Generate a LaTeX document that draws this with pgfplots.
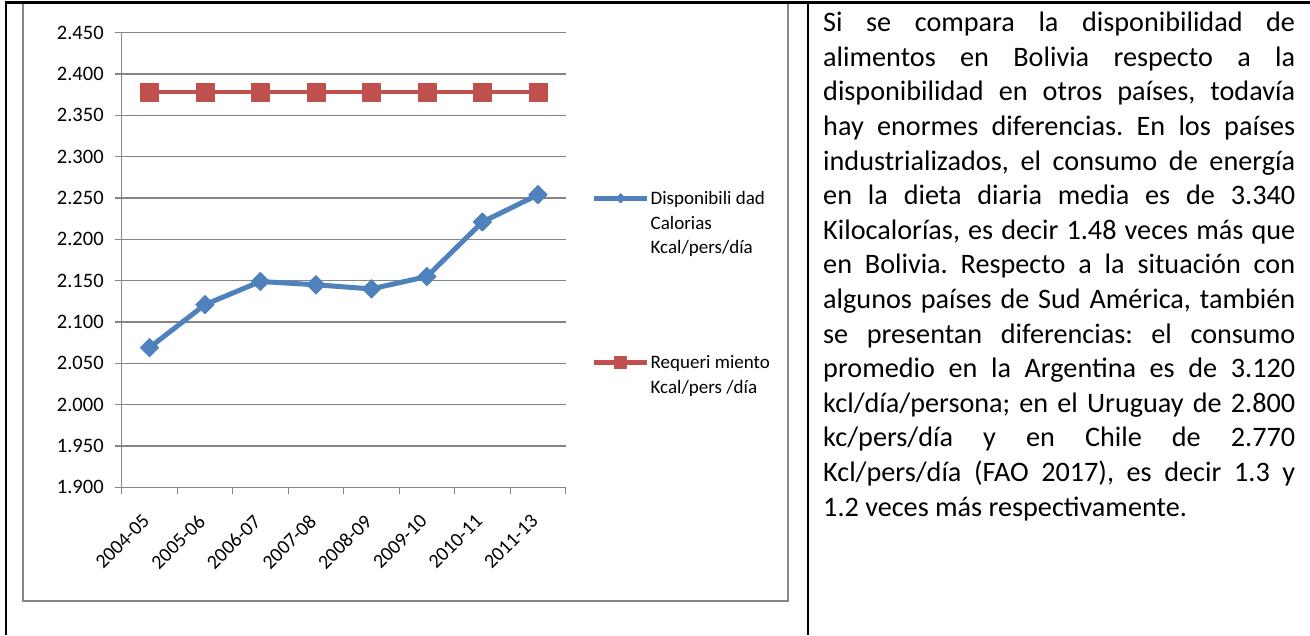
\documentclass[border=0pt]{standalone}
\usepackage{fontspec}
\setmainfont{Carlito}
\usepackage{pgfplots}
\pgfplotsset{compat=1.18}
\definecolor{serblue}{HTML}{4F81BD}
\definecolor{serred}{HTML}{C0504D}
\definecolor{gridgray}{HTML}{868686}
\pgfplotsset{
  blueleg/.style={legend image code/.code={\draw[##1, mark repeat=2, mark phase=2,
    every mark/.append style={scale=0.5}] plot coordinates {(0pt,6.2pt) (26.5pt,6.2pt) (53pt,6.2pt)};}},
  redleg/.style={legend image code/.code={\draw[##1, mark repeat=2, mark phase=2,
    every mark/.append style={scale=0.65}] plot coordinates {(0pt,6.2pt) (26.5pt,6.2pt) (53pt,6.2pt)};}},
}
\begin{document}
\frenchspacing
\begin{tikzpicture}[x=1pt,y=1pt]
\useasboundingbox (0,0) rectangle (1310,635);
\draw[gridgray, line width=1.2pt] (23,632) rectangle (788,34);
\begin{axis}[
  at={(121.7pt,147.7pt)}, anchor=south west,
  scale only axis, width=444pt, height=454.6pt,
  xmin=0, xmax=8, ymin=1.9, ymax=2.45,
  ytick={1.9,1.95,2,2.05,2.1,2.15,2.2,2.25,2.3,2.35,2.4,2.45},
  scaled y ticks=false,
  xtick={0,1,2,3,4,5,6,7,8}, xticklabels={},
  extra x ticks={0.5,1.5,2.5,3.5,4.5,5.5,6.5,7.5},
  extra x tick labels={2004-05,2005-06,2006-07,2007-08,2008-09,2009-10,2010-11,2011-13},
  extra x tick style={grid=none, major tick length=0pt},
  axis x line*=bottom, axis y line*=left,
  axis line style={gridgray, line width=1.2pt, -},
  tick style={gridgray, line width=1.2pt},
  tick align=outside, major tick length=6.5pt,
  ymajorgrids, grid style={gridgray, line width=1.2pt},
  ticklabel style={text=black},
  yticklabel style={font=\fontsize{20.5}{24}\selectfont, xshift=-8pt,
    /pgf/number format/fixed, /pgf/number format/fixed zerofill,
    /pgf/number format/precision=3, /pgf/number format/assume math mode=true},
  xticklabel style={font=\fontsize{20}{24}\selectfont, xshift=-8pt, yshift=-21pt, rotate=45, anchor=north east},
  clip=false,
  legend style={at={(1.0586,0.6598)}, anchor=north west, draw=none, fill=none,
    inner sep=0pt, outer sep=0pt, row sep=90.9pt, column sep=1pt,
    font=\fontsize{19}{24.5}\selectfont,
    nodes={inner sep=0pt, text depth=, text height=, anchor=base west},
    cells={anchor=base west}},
]
\addplot[serblue, line width=5pt, line join=round, mark=square*, mark size=6.5pt,
  mark options={rotate=45, fill=serblue, draw=serblue, line width=0.8pt, solid},
  blueleg]
  coordinates {(0.5,2.069) (1.5,2.121) (2.5,2.149) (3.5,2.145) (4.5,2.140) (5.5,2.155) (6.5,2.221) (7.5,2.254)};
\addlegendentry{\begin{tabular}[t]{@{}l@{}}Disponibili dad\\Calorias\\Kcal/pers/día\end{tabular}}
\addplot[serred, line width=4.5pt, line join=round, mark=square*, mark size=9pt,
  mark options={fill=serred, draw=serred, line width=0.8pt, solid},
  redleg]
  coordinates {(0.5,2.378) (1.5,2.378) (2.5,2.378) (3.5,2.378) (4.5,2.378) (5.5,2.378) (6.5,2.378) (7.5,2.378)};
\addlegendentry{\begin{tabular}[t]{@{}l@{}}Requeri miento\\Kcal/pers /día\end{tabular}}
\end{axis}
\node[anchor=base west, inner sep=0pt, font=\fontsize{28.2}{34.6}\selectfont] at (823,603.3) {\vtop{%
\hbox to 472pt{Si se compara la disponibilidad de}
\hbox to 472pt{alimentos en Bolivia respecto a la}
\hbox to 472pt{disponibilidad en otros países, todavía}
\hbox to 472pt{hay enormes diferencias. En los países}
\hbox to 472pt{industrializados, el consumo de energía}
\hbox to 472pt{en la dieta diaria media es de 3.340}
\hbox to 472pt{Kilocalorías, es decir 1.48 veces más que}
\hbox to 472pt{en Bolivia. Respecto a la situación con}
\hbox to 472pt{algunos países de Sud América, también}
\hbox to 472pt{se presentan diferencias: el consumo}
\hbox to 472pt{promedio en la Argentina es de 3.120}
\hbox to 472pt{kcl/día/persona; en el Uruguay de 2.800}
\hbox to 472pt{kc/pers/día y en Chile de 2.770}
\hbox to 472pt{Kcl/pers/día (FAO 2017), es decir 1.3 y}
\hbox{1.2 veces más respectivamente.}}};
\draw[black, line width=2.2pt] (4.5,632.5) -- (1310,632.5);
\draw[black, line width=2.2pt] (5.7,633.6) -- (5.7,0);
\draw[black, line width=2.6pt] (808,633.6) -- (808,0);
\end{tikzpicture}
\end{document}
